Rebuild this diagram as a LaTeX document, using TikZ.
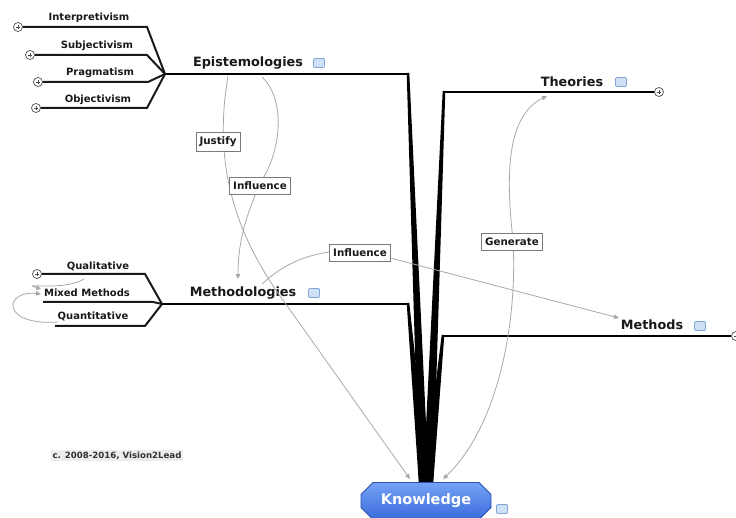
\documentclass[tikz,border=0pt]{standalone}
\usepackage{fontspec}
\setmainfont{DejaVu Sans}
\usetikzlibrary{arrows.meta,shapes.misc,calc}
\definecolor{relgray}{HTML}{A8A8A8}
\definecolor{boxgray}{HTML}{7A7A7A}
\definecolor{kblueT}{HTML}{74A2F4}
\definecolor{kblueB}{HTML}{3A6BDD}
\definecolor{kborder}{HTML}{2B52AE}
\definecolor{iconfill}{HTML}{CFE1F7}
\definecolor{icondraw}{HTML}{7FA5D3}
\begin{document}
\begin{tikzpicture}[x=1pt,y=-1pt,
  topic/.style={font=\bfseries\fontsize{12.8}{14}\selectfont, anchor=base, inner sep=0pt, text=black!90},
  subt/.style={font=\bfseries\fontsize{10}{11}\selectfont, anchor=base, inner sep=0pt, text=black!90},
  rlabel/.style={draw=boxgray, line width=0.8pt, fill=white, font=\bfseries\fontsize{10.3}{11}\selectfont, inner xsep=3.5pt, inner ysep=4.5pt, text=black!90},
  relline/.style={draw=relgray, line width=0.8pt},
  rtip/.style={-{Triangle[length=5pt,width=4.5pt]}},
  iconbox/.style={draw=icondraw, fill=iconfill, line width=0.7pt, minimum width=11pt, minimum height=9pt, inner sep=0pt, rounded corners=1pt},
  plusc/.style={circle, draw=black!70, fill=white, line width=0.7pt, minimum size=9pt, inner sep=0pt,
     path picture={\draw[black!70, line width=0.6pt] ($(path picture bounding box.center)+(-2,0)$) -- ($(path picture bounding box.center)+(2,0)$) ($(path picture bounding box.center)+(0,-2)$) -- ($(path picture bounding box.center)+(0,2)$);}},
  trunk/.style={line width=2.4pt, black},
  branch/.style={line width=2pt, black!90},
]
\useasboundingbox (0,0) rectangle (736,518);

% ---------- coordinates ----------
\coordinate (epiJ) at (165,74);
\coordinate (epiEnd) at (408,74);
\coordinate (metJ) at (162,304);
\coordinate (metEnd) at (408,304);
\coordinate (theoStart) at (444,92);
\coordinate (theoEnd) at (655,92);
\coordinate (mthStart) at (443,336);
\coordinate (mthEnd) at (731,336);
\coordinate (kTopL) at (424,486);
\coordinate (kTopR) at (428,486);

% ---------- wedges to Knowledge ----------
\fill[black] ($(epiEnd)+(-1.3,-1)$) -- ($(epiEnd)+(1.3,-1)$) -- ($(kTopL)+(5,0)$) -- ($(kTopL)+(-5,0)$) -- cycle;
\fill[black] ($(metEnd)+(-1.3,-1)$) -- ($(metEnd)+(1.3,-1)$) -- ($(kTopL)+(5,0)$) -- ($(kTopL)+(-5,0)$) -- cycle;
\fill[black] ($(theoStart)+(-1.3,-1)$) -- ($(theoStart)+(1.3,-1)$) -- ($(kTopR)+(5,0)$) -- ($(kTopR)+(-5,0)$) -- cycle;
\fill[black] ($(mthStart)+(-1.3,-1)$) -- ($(mthStart)+(1.3,-1)$) -- ($(kTopR)+(5,0)$) -- ($(kTopR)+(-5,0)$) -- cycle;

% ---------- main topic lines ----------
\draw[trunk] (epiJ) -- (epiEnd);
\draw[trunk] (metJ) -- (metEnd);
\draw[trunk] (theoStart) -- (theoEnd);
\draw[trunk] (mthStart) -- (mthEnd);

% ---------- main topics ----------
\node[topic] (epi) at (248,67) {Epistemologies};
\node[iconbox] (epiI) at (319,63) {};
\node[topic] (met) at (243,297) {Methodologies};
\node[iconbox] (metI) at (314,293) {};
\node[topic] (theo) at (572,87) {Theories};
\node[iconbox] (theoI) at (621,82) {};
\node[plusc] (theoP) at (659,92) {};
\node[topic] (mth) at (652,330) {Methods};
\node[iconbox] (mthI) at (700,326) {};
\node[plusc] (mthP) at (736,336) {};

% ---------- epistemology subtopics ----------
\node[plusc] (p1) at (18,27) {};
\node[plusc] (p2) at (30,55) {};
\node[plusc] (p3) at (38,82) {};
\node[plusc] (p4) at (36,108) {};
\coordinate (c1) at (147,27);
\coordinate (c2) at (147,55);
\coordinate (c3) at (148,82);
\coordinate (c4) at (147,108);
\draw[branch] (p1.east) -- (c1) -- (epiJ);
\draw[branch] (p2.east) -- (c2) -- (epiJ);
\draw[branch] (p3.east) -- (c3) -- (epiJ);
\draw[branch] (p4.east) -- (c4) -- (epiJ);
\node[subt] (s1) at (89,21) {Interpretivism};
\node[subt] (s2) at (97,49) {Subjectivism};
\node[subt] (s3) at (100,76) {Pragmatism};
\node[subt] (s4) at (98,103) {Objectivism};

% ---------- methodology subtopics ----------
\node[plusc] (q1) at (37,274) {};
\coordinate (d1) at (145,274);
\coordinate (m0) at (43,302);
\coordinate (d2) at (153,302);
\coordinate (u0) at (55,326);
\coordinate (d3) at (145,326);
\draw[branch] (q1.east) -- (d1) -- (metJ);
\draw[branch] (m0) -- (d2) -- (metJ);
\draw[branch] (u0) -- (d3) -- (metJ);
\node[subt] (t1) at (98,270) {Qualitative};
\node[subt] (t2) at (87,297) {Mixed Methods};
\node[subt] (t3) at (93,320) {Quantitative};

% mixed methods relationships
\coordinate (qualR) at (84,279);
\coordinate (mixA) at (41,289);
\coordinate (quantR) at (58,322);
\coordinate (mixB) at (41,294);
\draw[relline,rtip] (qualR) .. controls (62,292) and (18,282) .. (mixA);
\draw[relline,rtip] (quantR) .. controls (0,326) and (4,290) .. (mixB);

% ---------- Knowledge ----------
\node[chamfered rectangle, chamfered rectangle xsep=6pt, chamfered rectangle ysep=6pt,
      draw=kborder, line width=0.8pt, top color=kblueT, bottom color=kblueB,
      minimum width=130pt, minimum height=37pt, inner sep=0pt,
      font=\bfseries\fontsize{14.5}{16}\selectfont, text=white] (know) at (426,501) {Knowledge};
\node[iconbox] (knowI) at (502,509) {};

% ---------- relationships ----------
\coordinate (jS) at (228,76);
\coordinate (jM) at (288,307);
\coordinate (jE) at (410,479);
\draw[relline,rtip] (jS) .. controls (212,170) and (238,240) .. (jM) -- (jE);
\node[rlabel] (justify) at (218,142) {Justify};

\coordinate (iS) at (262,77);
\coordinate (iM) at (262,180);
\coordinate (iE) at (238,279);
\draw[relline,rtip] (iS) .. controls (286,100) and (281,150) .. (iM) .. controls (247,212) and (238,240) .. (iE);
\node[rlabel] (infl1) at (260,186) {Influence};

\coordinate (hS) at (262,284);
\coordinate (hM) at (360,250);
\coordinate (hE) at (619,318);
\draw[relline,rtip] (hS) .. controls (290,258) and (320,250) .. (hM) -- (hE);
\node[rlabel] (infl2) at (360,253) {Influence};

\coordinate (gS) at (443,479);
\coordinate (gM) at (513,240);
\coordinate (gE) at (547,96);
\draw[relline,{Triangle[length=5pt,width=4.5pt]}-{Triangle[length=5pt,width=4.5pt]}] (gS) .. controls (495,430) and (518,330) .. (gM) .. controls (505,170) and (508,115) .. (gE);
\node[rlabel] (gen) at (512,242) {Generate};

% ---------- copyright ----------
\node[fill=black!7, inner sep=1.5pt, anchor=base, font=\bfseries\fontsize{8.6}{9}\selectfont, text=black!80] (copy) at (117,458) {c. 2008-2016, Vision2Lead};
\end{tikzpicture}
\end{document}
